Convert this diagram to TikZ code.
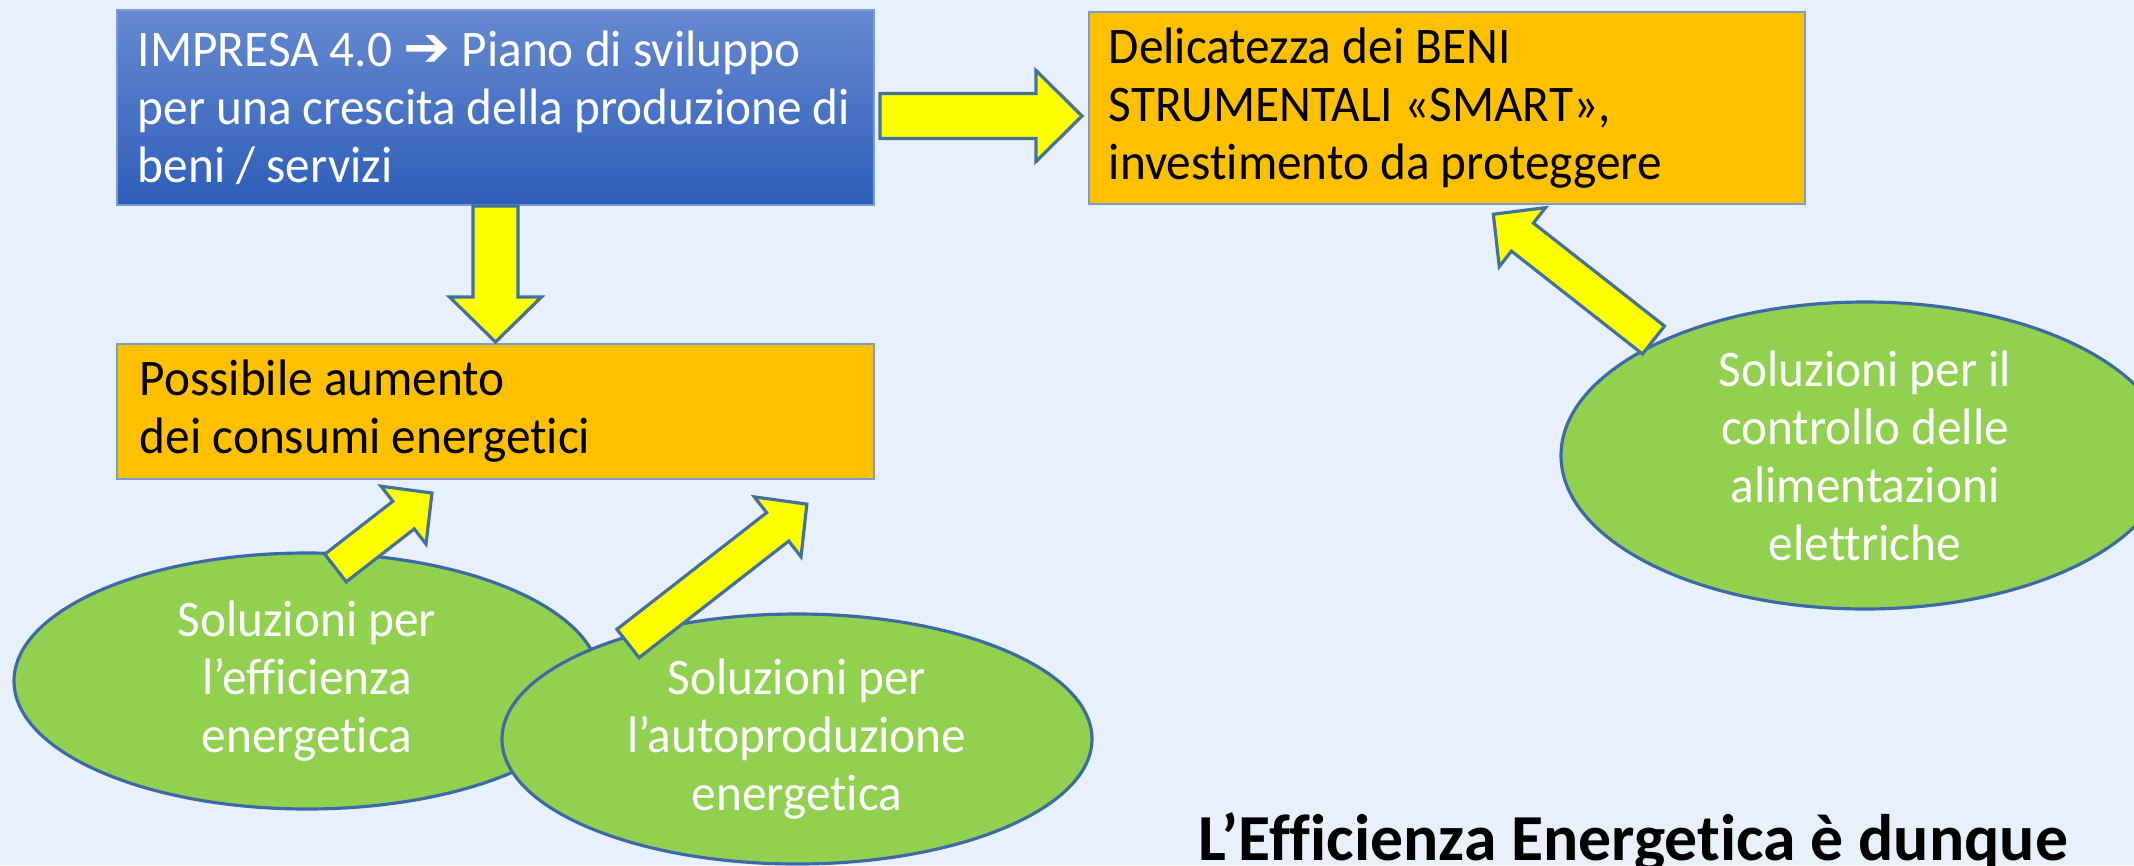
\documentclass[tikz,border=0pt]{standalone}
\usepackage{fontspec}
\setmainfont{Carlito}[Ligatures=NoCommon, FakeStretch=0.96]
\newfontfamily\concfont{Carlito}[Ligatures=NoCommon]
\newfontfamily\dejavu{DejaVu Sans}
\usetikzlibrary{shapes.geometric,calc}
\definecolor{bgcol}{HTML}{E7F0FB}
\definecolor{boxline}{HTML}{7A9CD0}
\definecolor{blueTop}{HTML}{6689D0}
\definecolor{blueBot}{HTML}{2E5EB9}
\definecolor{orangeFill}{HTML}{FFC000}
\definecolor{yellowFill}{HTML}{FFFF00}
\definecolor{greenFill}{HTML}{92D050}
\definecolor{arrLine}{HTML}{41719C}
\definecolor{ellLine}{HTML}{3D6AA6}
\newcommand\blockarr[5]{%
  \path[blockarrow] let \p1=($(#2)-(#1)$), \n1={atan2(\y1,\x1)}, \n2={veclen(\x1,\y1)} in
    [shift={(#1)}, rotate=\n1]
    (0pt,#3) -- ({\n2-#5},#3) -- ({\n2-#5},#4) -- ({\n2+0pt},0pt) -- ({\n2-#5},-#4) -- ({\n2-#5},-#3) -- (0pt,-#3) -- cycle;}
\begin{document}
\begin{tikzpicture}[x=0.1mm,y=-0.1mm,
  txt/.style={font=\fontsize{14.6pt}{16.5pt}\selectfont, inner sep=0pt},
  boxbase/.style={rectangle, draw=boxline, line width=0.5pt, inner sep=0pt},
  bluebox/.style={boxbase, top color=blueTop, bottom color=blueBot},
  orangebox/.style={boxbase, fill=orangeFill},
  bubble/.style={ellipse, draw=ellLine, line width=0.9pt, fill=greenFill, inner sep=0pt},
  bubbletext/.style={txt, text=white, align=center},
  boxtext/.style={txt, align=left, anchor=west},
  blockarrow/.style={draw=arrLine, line width=0.9pt, fill=yellowFill, line join=miter}
]
\useasboundingbox (0,0) rectangle (2134,865);
\clip (0,0) rectangle (2134,865);
\fill[bgcol] (0,0) rectangle (2134,865);

% boxes
\node[bluebox, minimum width=75.7mm, minimum height=19.5mm] (impresa) at (495.5,107.5) {};
\node[boxtext, text=white] (impresaT) at ($(impresa.west)+(21,0)$)
  {IMPRESA 4.0 {\dejavu\bfseries\fontsize{16pt}{16.5pt}\selectfont ➔} Piano di sviluppo\\per una crescita della produzione di\\beni / servizi};
\node[orangebox, minimum width=71.6mm, minimum height=19.2mm] (beni) at (1447,108) {};
\node[boxtext] (beniT) at ($(beni.west)+(20,0)$)
  {Delicatezza dei BENI\\STRUMENTALI «SMART»,\\investimento da proteggere};
\node[orangebox, minimum width=75.7mm, minimum height=13.5mm] (consumi) at (495.5,411.5) {};
\node[boxtext] (consumiT) at ($(consumi.west)+(23,0)$)
  {Possibile aumento\\dei consumi energetici};

% ellipses
\node[bubble, minimum width=58.6mm, minimum height=25.6mm] (eff) at (307,681) {};
\node[bubbletext] (effT) at (eff.center) {Soluzioni per\\l’efficienza\\energetica};
\node[bubble, minimum width=59mm, minimum height=25mm] (auto) at (797,739) {};
\node[bubbletext] (autoT) at (auto.center) {Soluzioni per\\l’autoproduzione\\energetica};
\node[bubble, minimum width=60.8mm, minimum height=30.7mm] (ctrl) at (1865,455.5) {};
\node[bubbletext] (ctrlT) at (ctrl.center) {Soluzioni per il\\controllo delle\\alimentazioni\\elettriche};

% arrow end points
\coordinate (r1) at (880,116);   \coordinate (r2) at (1082,116);
\coordinate (d1) at (495.5,206); \coordinate (d2) at (495.5,342);
\coordinate (a1) at (335.5,568); \coordinate (a2) at (432,493);
\coordinate (b1) at (628,643.5); \coordinate (b2) at (807,504);
\coordinate (c1) at (1653.5,340); \coordinate (c2) at (1493,214);

\blockarr{r1}{r2}{2.25mm}{4.55mm}{4.6mm}
\blockarr{d1}{d2}{2.25mm}{4.6mm}{4.5mm}
\blockarr{a1}{a2}{1.75mm}{3.66mm}{3.6mm}
\blockarr{b1}{b2}{1.8mm}{3.8mm}{3.7mm}
\blockarr{c1}{c2}{1.78mm}{3.75mm}{3.7mm}

\node[anchor=base west, inner sep=0pt, font=\concfont\bfseries\fontsize{18.7pt}{22pt}\selectfont] (concl) at (1198,860)
  {L’Efficienza Energetica è dunque};
\end{tikzpicture}
\end{document}
